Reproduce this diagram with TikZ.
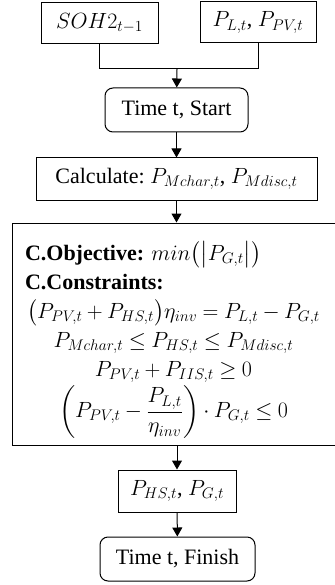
\RequirePackage{fix-cm}
\documentclass[tikz,border=0pt]{standalone}
\usepackage{amsmath}
\usepackage{amssymb}
\usepackage{fontspec}
\setmainfont{Liberation Serif}
\usepackage{tikz}
\usetikzlibrary{arrows.meta}
\newcommand{\Pw}[1]{P_{#1,t}}
\newcommand{\boxfont}{\fontsize{22}{29}\selectfont\frenchspacing
  \thickmuskip=4.5mu\relax\medmuskip=3.5mu\relax}
\tikzset{
  stepbox/.style={draw,line width=1pt,inner sep=0pt,align=center,font=\boxfont},
  roundbox/.style={stepbox,rounded corners=8pt},
  flow/.style={line width=1pt,-{Triangle[length=9pt,width=10pt]}}
}

\begin{document}
\begin{tikzpicture}[x=1pt,y=-1pt]
    \useasboundingbox (0,0) rectangle (334,585);
    \node[stepbox,minimum width=117pt,minimum height=41pt] (soh) at (99.5,23) {$SOH2_{t-1}$};
    \node[stepbox,minimum width=116pt,minimum height=41pt] (load) at (258,22.5) {$\Pw{L}$, $\Pw{PV}$};
    \coordinate (join) at (177,69);
    \node[roundbox,minimum width=143pt,minimum height=44pt] (start) at (176.5,110) {Time t, Start};
    \node[stepbox,minimum width=281pt,minimum height=42pt] (calc) at (176.5,179) {Calculate: $\Pw{Mchar}$, $\Pw{Mdisc}$};
    \node[stepbox,minimum width=323pt,minimum height=222pt,text width=297pt] (opt) at (173.5,334)
      {\makebox[297pt][l]{\rule{0pt}{31pt}\textbf{C.Objective:} $min\bigl(\bigl|\Pw{G}\bigr|\bigr)$}\\
       \makebox[297pt][l]{\textbf{C.Constraints:}}\\
       $\bigl(\Pw{PV}+\Pw{HS}\bigr)\eta_{inv}=\Pw{L}-\Pw{G}$\\
       $\Pw{Mchar}\leq\Pw{HS}\leq\Pw{Mdisc}$\\
       $\Pw{PV}+P_{IIS,t}\geq 0$\\[2pt]
       $\left(\Pw{PV}-\dfrac{\Pw{L}}{\eta_{inv}}\right)\cdot\Pw{G}\leq 0$};
    \node[stepbox,minimum width=118pt,minimum height=42pt] (res) at (177,491) {$\Pw{HS}$, $\Pw{G}$};
    \node[roundbox,minimum width=155pt,minimum height=44pt] (fin) at (177.5,559) {Time t, Finish};

    % inputs meet above start
    \draw[line width=1pt] (soh.south) |- (join);
    \draw[line width=1pt] (load.south) |- (join);
    \draw[flow] (join) -- (start);
    \draw[flow] (start) -- (calc);
    \draw[flow] (calc.south) -- (calc.south |- opt.north);
    \draw[flow] (res.north |- opt.south) -- (res);
    \draw[flow] (res) -- (fin);
\end{tikzpicture}
\end{document}
